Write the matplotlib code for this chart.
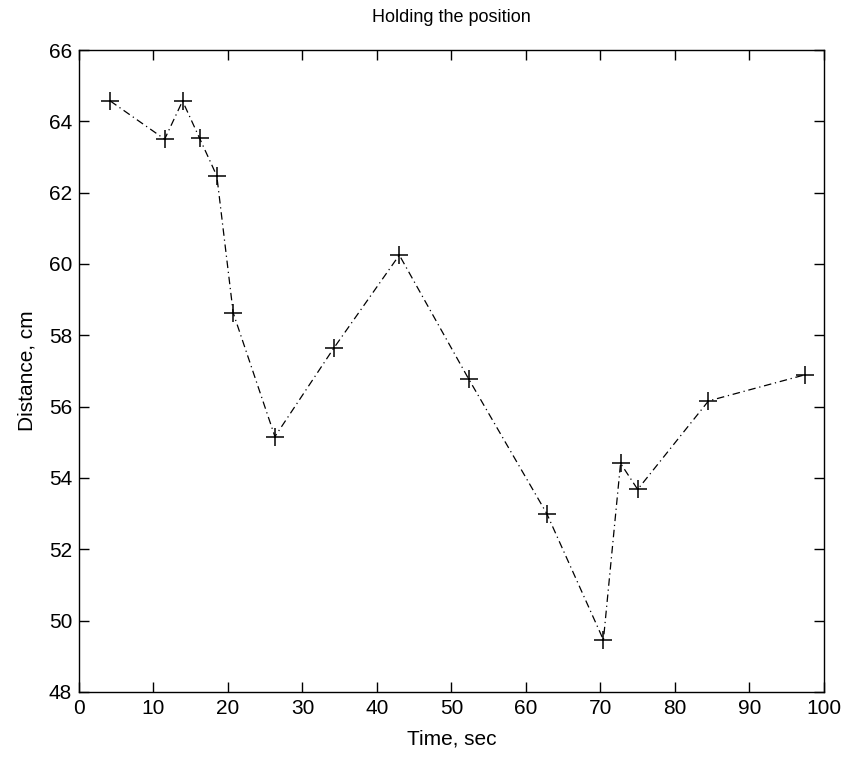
import matplotlib
matplotlib.use('Agg')
import matplotlib.pyplot as plt

plt.rcParams['font.family'] = ['Liberation Sans', 'DejaVu Sans']

# time (s) and distance (cm)
time_s = [4.2, 11.5, 13.9, 16.2, 18.5, 20.7, 26.3, 34.2, 43.0, 52.3,
          62.8, 70.4, 72.7, 75.0, 84.5, 97.4]
distance_cm = [64.57, 63.5, 64.57, 63.52, 62.47, 58.63, 55.16, 57.64, 60.25, 56.78,
               53.0, 49.46, 54.41, 53.68, 56.16, 56.89]

x_ticks = list(range(0, 101, 10))
y_ticks = list(range(48, 67, 2))

fig = plt.figure(figsize=(8.44, 7.6), dpi=100)
ax = fig.add_axes([0.0936, 0.0895, 0.8826, 0.8447])

line, = ax.plot(time_s, distance_cm, color='black', linewidth=0.9,
                marker='+', markersize=13, markeredgewidth=1.1)
line.set_dashes((6, 3, 1, 3))

ax.set_xlim(0, 100)
ax.set_ylim(48, 66)
ax.set_xticks(x_ticks)
ax.set_yticks(y_ticks)
ax.tick_params(direction='in', length=7, width=1, top=True, right=True,
               labelsize=15, pad=5, colors='black')
for s in ax.spines.values():
    s.set_linewidth(1.0)

ax.set_title('Holding the position', fontsize=13, pad=20)
ax.set_xlabel('Time, sec', fontsize=15, labelpad=8)
ax.set_ylabel('Distance, cm', fontsize=15, labelpad=9)

fig.savefig('out.png', dpi=100)
